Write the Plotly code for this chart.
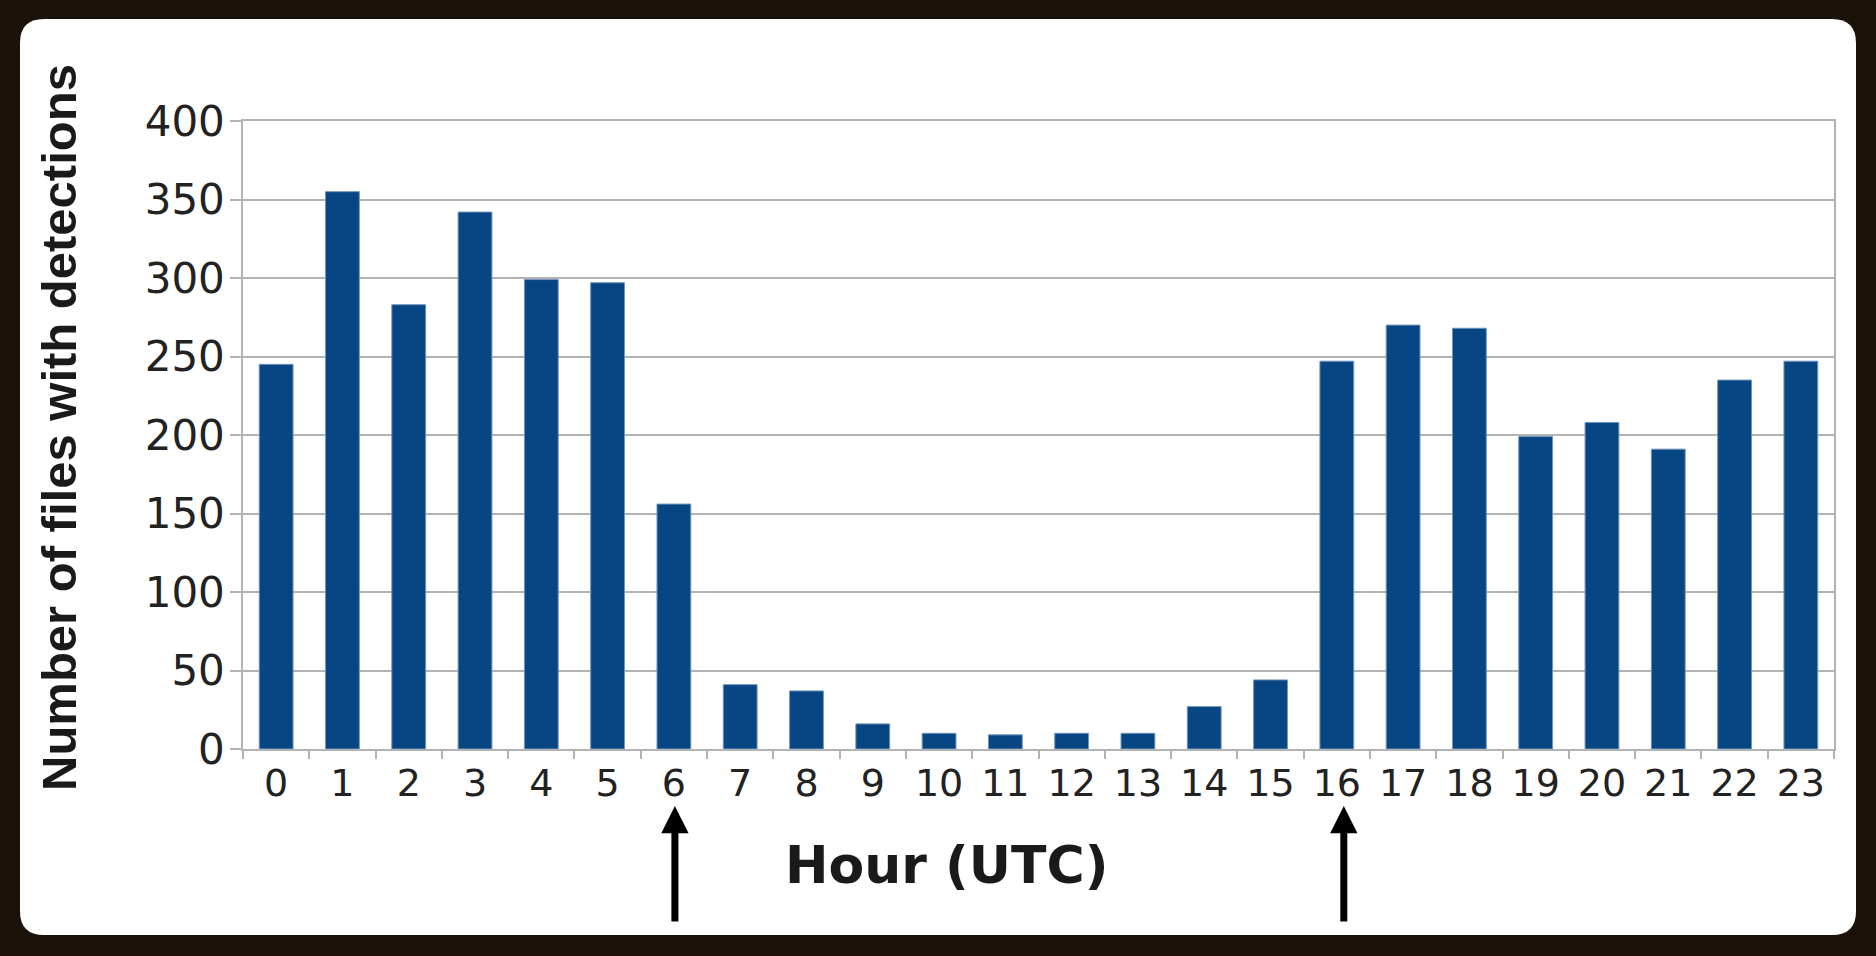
import plotly.graph_objects as go

hours = [str(h) for h in range(24)]
files_with_detections = [245, 355, 283, 342, 299, 297, 156, 41, 37, 16, 10, 9,
                         10, 10, 27, 44, 247, 270, 268, 199, 208, 191, 235, 247]
y_ticks = [0, 50, 100, 150, 200, 250, 300, 350, 400]
arrow_hours = ["6", "16"]
arrow_xshift = [1, 7]

W, H = 1876, 956
L, R, T, B = 243, 1834, 121, 749
PW, PH = R - L, B - T


def fx(px):
    return (px - L) / PW


def fy(py):
    return (B - py) / PH


# rounded white card
cx0, cx1, cy0, cy1, rad = 20, 1856, 19, 935, 24
card = (
    f"M {fx(cx0 + rad)},{fy(cy0)} L {fx(cx1 - rad)},{fy(cy0)} "
    f"Q {fx(cx1)},{fy(cy0)} {fx(cx1)},{fy(cy0 + rad)} "
    f"L {fx(cx1)},{fy(cy1 - rad)} Q {fx(cx1)},{fy(cy1)} {fx(cx1 - rad)},{fy(cy1)} "
    f"L {fx(cx0 + rad)},{fy(cy1)} Q {fx(cx0)},{fy(cy1)} {fx(cx0)},{fy(cy1 - rad)} "
    f"L {fx(cx0)},{fy(cy0 + rad)} Q {fx(cx0)},{fy(cy0)} {fx(cx0 + rad)},{fy(cy0)} Z"
)

fig = go.Figure(
    go.Bar(
        x=hours,
        y=files_with_detections,
        width=0.51,
        marker=dict(color="#084683", line=dict(color="#6f94bd", width=1)),
    )
)

annotations = [
    dict(text="<b>Hour (UTC)</b>", xref="paper", yref="paper", x=fx(946), y=fy(865),
         xanchor="center", yanchor="middle", showarrow=False,
         font=dict(family="DejaVu Sans", size=52, color="#1a1a1a")),
    dict(text="<b>Number of files with detections</b>", xref="paper", yref="paper",
         x=fx(59), y=fy(428), xanchor="center", yanchor="middle", textangle=-90,
         showarrow=False,
         font=dict(family="Liberation Sans", size=49, color="#1a1a1a")),
]
for h, xs in zip(arrow_hours, arrow_xshift):
    annotations.append(dict(
        x=hours.index(h), y=fy(806), xref="x", yref="paper", text="",
        showarrow=True, ax=0, ay=117, axref="pixel", ayref="pixel", xshift=xs,
        arrowhead=2, arrowsize=0.78, arrowwidth=7, arrowcolor="#000000",
    ))

fig.update_layout(
    width=W, height=H,
    margin=dict(l=L, r=W - R, t=T, b=H - B, pad=0),
    paper_bgcolor="#1b1209",
    plot_bgcolor="rgba(0,0,0,0)",
    showlegend=False,
    shapes=[dict(type="path", path=card, xref="paper", yref="paper",
                 fillcolor="#ffffff", line=dict(width=0), layer="below")],
    annotations=annotations,
    xaxis=dict(
        type="category", tickson="boundaries", ticks="outside", ticklen=8,
        tickcolor="#b3b3b3", tickwidth=1.5, showgrid=False,
        showline=True, linecolor="#b3b3b3", linewidth=1.5, mirror=True,
        tickfont=dict(family="DejaVu Sans", size=38, color="#222222"),
        range=[-0.5, 23.5], fixedrange=True,
    ),
    yaxis=dict(
        range=[0, 400], tickvals=y_ticks, ticks="outside", ticklen=11,
        tickcolor="#b3b3b3", tickwidth=1.5,
        showgrid=True, gridcolor="#b3b3b3", gridwidth=1.5,
        showline=True, linecolor="#b3b3b3", linewidth=1.5, mirror=True,
        zeroline=False, ticklabelstandoff=-3,
        tickfont=dict(family="DejaVu Sans", size=42, color="#222222"),
    ),
)

fig.write_html(
    "out.html",
    config={"displayModeBar": False},
    post_script="document.body.style.margin='0px';document.body.style.overflow='hidden';",
)
